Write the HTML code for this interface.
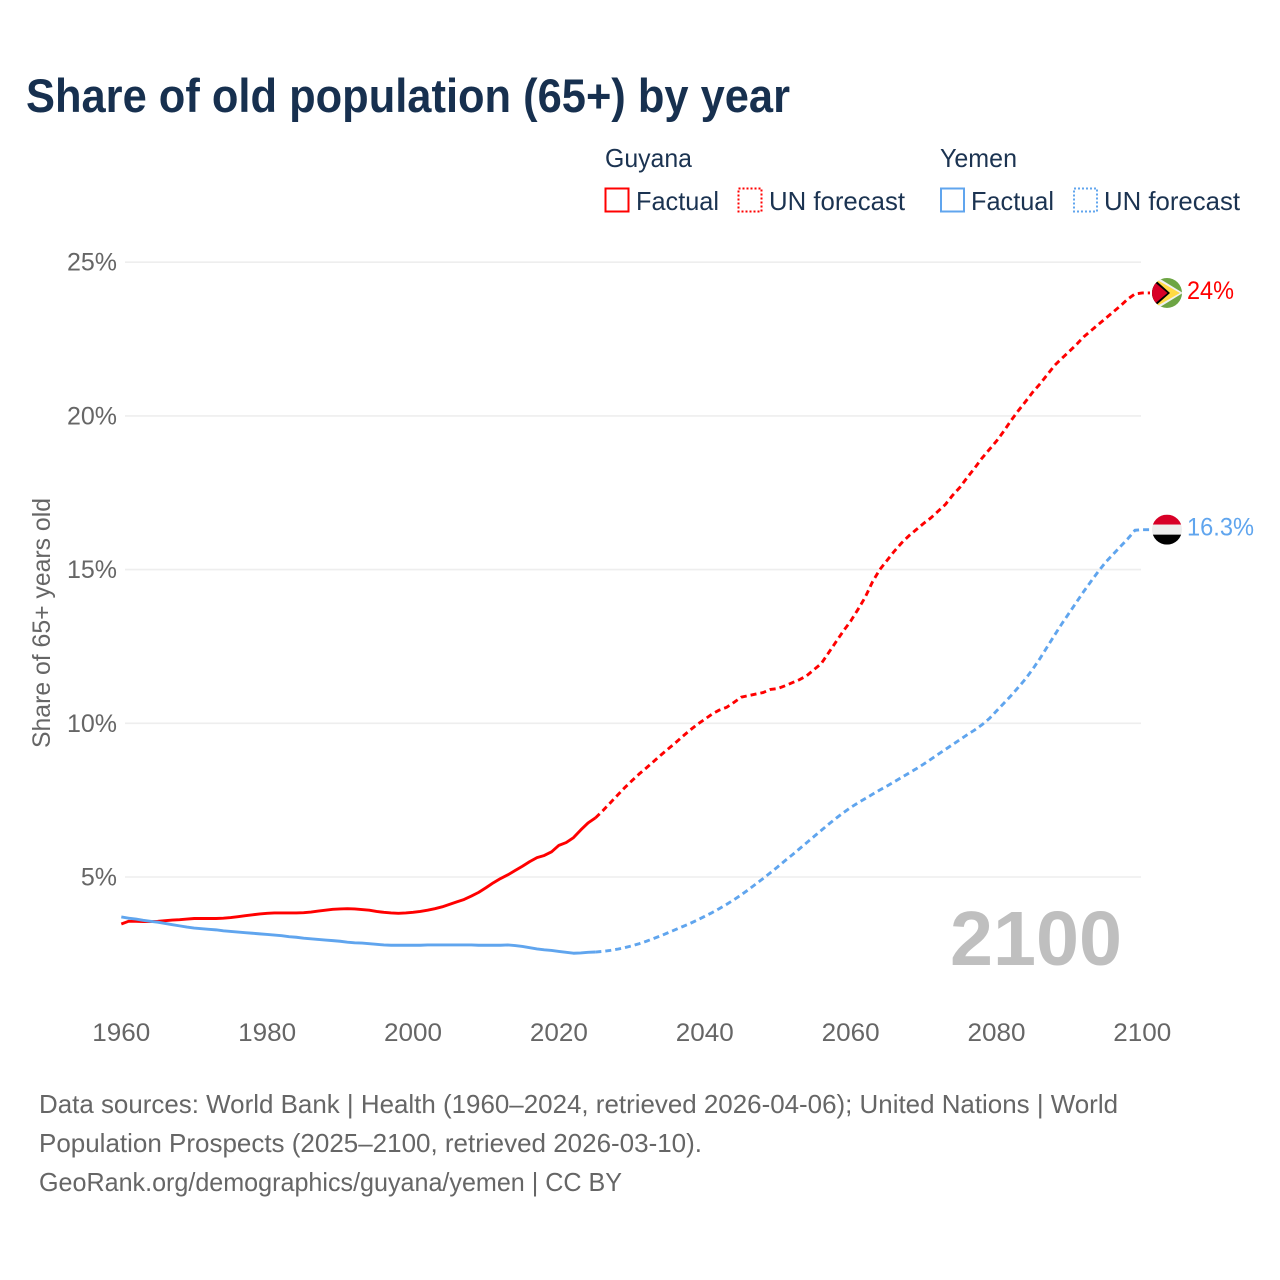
<!DOCTYPE html>
<html lang="en">
<head>
<meta charset="utf-8">
<title>Share of old population (65+) by year</title>
<style>
html,body{margin:0;padding:0;background:#fff;}
svg{display:block;font-family:"Liberation Sans",sans-serif;}
</style>
</head>
<body>
<svg id="chart" width="1280" height="1280" viewBox="0 0 1280 1280" xmlns="http://www.w3.org/2000/svg">
  <rect width="1280" height="1280" fill="#fff"/>
  <text x="26" y="112" font-size="47" font-weight="700" fill="#17304f" textLength="764" lengthAdjust="spacingAndGlyphs">Share of old population (65+) by year</text>

  <g font-size="26" fill="#1b3351">
    <text x="605" y="167" textLength="87" lengthAdjust="spacingAndGlyphs">Guyana</text>
    <text x="940" y="167" textLength="77" lengthAdjust="spacingAndGlyphs">Yemen</text>
    <rect x="605.5" y="188.5" width="23" height="23" fill="#fff" stroke="#ff0000" stroke-width="2"/>
    <text x="636" y="210" textLength="83" lengthAdjust="spacingAndGlyphs">Factual</text>
    <rect x="738.5" y="188.5" width="23" height="23" fill="#fff" stroke="#ff0000" stroke-width="2" stroke-dasharray="2 2"/>
    <text x="769" y="210" textLength="136" lengthAdjust="spacingAndGlyphs">UN forecast</text>
    <rect x="941" y="188.5" width="23" height="23" fill="#fff" stroke="#60a5ee" stroke-width="2"/>
    <text x="971" y="210" textLength="83" lengthAdjust="spacingAndGlyphs">Factual</text>
    <rect x="1074" y="188.5" width="23" height="23" fill="#fff" stroke="#60a5ee" stroke-width="2" stroke-dasharray="2 2"/>
    <text x="1104" y="210" textLength="136" lengthAdjust="spacingAndGlyphs">UN forecast</text>
  </g>

  <g id="grid"></g>
  <g id="yticks"></g>
  <g id="xticks"></g>

  <text transform="translate(50,748) rotate(-90)" font-size="25" fill="#666" textLength="250" lengthAdjust="spacingAndGlyphs">Share of 65+ years old</text>
  <text x="950" y="965" font-size="77" font-weight="700" fill="#bfbfbf" textLength="172" lengthAdjust="spacingAndGlyphs">2100</text>

  <g id="series" fill="none" stroke-width="2.9" stroke-linejoin="round"></g>

  <defs>
    <clipPath id="guyana-clip"><circle cx="1167" cy="292" r="15"/></clipPath>
    <clipPath id="yemen-clip"><circle cx="1167" cy="529" r="15"/></clipPath>
  </defs>

  <g id="guyana-flag"><g clip-path="url(#guyana-clip)">
    <rect x="1152" y="277" width="30" height="30" fill="#6da544"/>
    <polygon points="1152,273 1183,292 1152,311" fill="#f0f0f0"/>
    <polygon points="1152,276 1180,292 1152,308" fill="#ffda44"/>
    <polygon points="1152,276 1170,292 1152,308" fill="#000"/>
    <polygon points="1152,279 1167.5,292 1152,305" fill="#d80027"/>
  </g></g>
  <g id="yemen-flag"><g clip-path="url(#yemen-clip)">
    <rect x="1152" y="514" width="30" height="10" fill="#d80027"/>
    <rect x="1152" y="524" width="30" height="10" fill="#eeeeee"/>
    <rect x="1152" y="534" width="30" height="10" fill="#000"/>
  </g></g>

  <text id="guyana-end-label" x="1187" y="299" font-size="25" fill="#ff0000" textLength="47" lengthAdjust="spacingAndGlyphs"></text>
  <text id="yemen-end-label" x="1187" y="536" font-size="25" fill="#60a5ee" textLength="67" lengthAdjust="spacingAndGlyphs"></text>

  <g font-size="26" fill="#666">
    <text x="39" y="1113" textLength="1079" lengthAdjust="spacingAndGlyphs">Data sources: World Bank | Health (1960–2024, retrieved 2026-04-06); United Nations | World</text>
    <text x="39" y="1152" textLength="663" lengthAdjust="spacingAndGlyphs">Population Prospects (2025–2100, retrieved 2026-03-10).</text>
    <text x="39" y="1191" textLength="583" lengthAdjust="spacingAndGlyphs">GeoRank.org/demographics/guyana/yemen | CC BY</text>
  </g>
</svg>

<script>
const firstYear = 1960;
const lastFactualYear = 2025;
const yTickValues = [5, 10, 15, 20, 25];
const xTickYears = [1960, 1980, 2000, 2020, 2040, 2060, 2080, 2100];
const guyanaEndLabel = "24%";
const yemenEndLabel = "16.3%";

// Annual values from 1960 to 2100, percent of population aged 65+
const guyanaValues = [
  3.47,3.56,3.56,3.55,3.55,3.56,3.58,3.60,3.61,3.63,
  3.65,3.65,3.65,3.65,3.66,3.68,3.71,3.74,3.77,3.80,
  3.82,3.83,3.83,3.83,3.83,3.84,3.86,3.89,3.92,3.95,
  3.96,3.97,3.96,3.94,3.92,3.88,3.85,3.83,3.82,3.83,
  3.85,3.88,3.92,3.97,4.03,4.11,4.19,4.27,4.38,4.50,
  4.65,4.81,4.95,5.07,5.21,5.35,5.50,5.63,5.70,5.82,
  6.03,6.12,6.28,6.53,6.76,6.92,
  7.15,7.40,7.65,7.90,8.13,8.35,8.55,8.76,8.97,9.17,
  9.37,9.58,9.78,9.97,10.13,10.30,10.43,10.52,10.68,10.85,
  10.90,10.95,11.00,11.10,11.13,11.22,11.32,11.42,11.55,11.75,
  11.95,12.30,12.65,13.00,13.32,13.70,14.10,14.60,15.00,15.30,
  15.60,15.87,16.10,16.30,16.50,16.68,16.90,17.12,17.42,17.68,
  18.00,18.30,18.62,18.90,19.18,19.50,19.85,20.17,20.47,20.78,
  21.05,21.35,21.65,21.88,22.10,22.33,22.58,22.78,22.98,23.18,
  23.38,23.58,23.80,23.97,24.00
];
const yemenValues = [
  3.70,3.66,3.63,3.59,3.56,3.53,3.49,3.45,3.41,3.37,
  3.34,3.32,3.30,3.28,3.25,3.23,3.21,3.19,3.17,3.15,
  3.13,3.11,3.09,3.06,3.04,3.01,2.99,2.97,2.95,2.93,
  2.91,2.88,2.86,2.85,2.83,2.81,2.79,2.78,2.78,2.78,
  2.78,2.78,2.79,2.79,2.79,2.79,2.79,2.79,2.79,2.78,
  2.78,2.78,2.78,2.79,2.77,2.74,2.70,2.66,2.63,2.61,
  2.58,2.55,2.52,2.53,2.55,2.56,
  2.58,2.61,2.65,2.70,2.76,2.83,2.91,3.00,3.09,3.19,
  3.29,3.39,3.49,3.60,3.72,3.84,3.97,4.11,4.26,4.42,
  4.59,4.77,4.95,5.14,5.33,5.53,5.72,5.92,6.12,6.32,
  6.52,6.72,6.91,7.09,7.26,7.41,7.55,7.69,7.83,7.96,
  8.10,8.24,8.38,8.52,8.67,8.83,8.99,9.15,9.31,9.47,
  9.63,9.78,9.95,10.15,10.40,10.65,10.90,11.17,11.45,11.77,
  12.12,12.50,12.88,13.25,13.60,13.95,14.30,14.63,14.95,15.25,
  15.50,15.75,16.00,16.28,16.30
];

const NS = "http://www.w3.org/2000/svg";
function xScale(year){ return 121.3 + (year - 1960) * 7.293; }
function yScale(v){ return 1030.7 - v * 30.74; }
function make(tag, attrs){
  const el = document.createElementNS(NS, tag);
  for (const k in attrs) el.setAttribute(k, attrs[k]);
  return el;
}

const grid = document.getElementById("grid");
const yticks = document.getElementById("yticks");
yTickValues.forEach(function(v){
  const y = yScale(v);
  const line = make("line", {x1:125, x2:1141, y1:y, y2:y, stroke:"#eeeeee", "stroke-width":1.6});
  
  
  grid.appendChild(line);
  const t = make("text", {x:117, y:y + 8.5, "text-anchor":"end", "font-size":25, fill:"#666"});
  
  
  t.textContent = v + "%";
  yticks.appendChild(t);
});

const xticks = document.getElementById("xticks");
xTickYears.forEach(function(yr){
  const t = make("text", {x:xScale(yr) - 29, y:1041, "font-size":25, fill:"#666", textLength:58, lengthAdjust:"spacingAndGlyphs"});
  
  
  t.textContent = yr;
  xticks.appendChild(t);
});

function pathFor(values, fromYear, toYear){
  let d = "";
  for (let yr = fromYear; yr <= toYear; yr++){
    const v = values[yr - firstYear];
    d += (d ? "L" : "M") + xScale(yr).toFixed(2) + " " + yScale(v).toFixed(2);
  }
  return d;
}

const series = document.getElementById("series");
function drawSeries(values, color, key){
  const lastYear = firstYear + values.length - 1;
  const solid = make("path", {d:pathFor(values, firstYear, lastFactualYear), stroke:color});
  
  
  series.appendChild(solid);
  const endY = yScale(values[values.length - 1]);
  const dashed = make("path", {
    d:pathFor(values, lastFactualYear, lastYear) + "L1150 " + endY.toFixed(2),
    stroke:color, "stroke-dasharray":"6 4"
  });
  
  
  series.appendChild(dashed);
  // place the end-of-line flag and label from the final value
  const baseY = key === "guyana" ? 292 : 529;
  document.getElementById(key + "-flag").setAttribute("transform", "translate(0," + (endY - baseY).toFixed(2) + ")");
  document.getElementById(key + "-end-label").setAttribute("y", (endY + 6).toFixed(2));
}
drawSeries(guyanaValues, "#ff0000", "guyana");
drawSeries(yemenValues, "#60a5ee", "yemen");
document.getElementById("guyana-end-label").textContent = guyanaEndLabel;
document.getElementById("yemen-end-label").textContent = yemenEndLabel;
</script>
</body>
</html>
